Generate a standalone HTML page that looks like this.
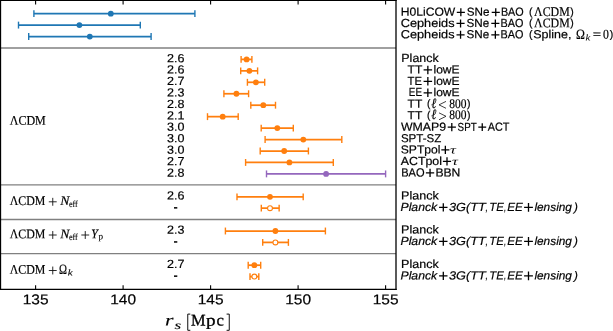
<!DOCTYPE html>
<html><head><meta charset="utf-8"><title>r_s constraints</title>
<style>
html,body{margin:0;padding:0;background:#fff;}
body{width:613px;height:331px;overflow:hidden;font-family:"Liberation Sans",sans-serif;}
svg{display:block;}
</style></head><body>
<svg width="613" height="331" viewBox="0 0 613 331">
<rect x="0" y="0" width="613" height="331" fill="#fff"/>
<line x1="33.90" y1="13.65" x2="194.90" y2="13.65" stroke="#1f77b4" stroke-width="1.75"/>
<line x1="33.90" y1="10.20" x2="33.90" y2="17.10" stroke="#1f77b4" stroke-width="1.4"/>
<line x1="194.90" y1="10.20" x2="194.90" y2="17.10" stroke="#1f77b4" stroke-width="1.4"/>
<circle cx="110.80" cy="13.65" r="2.90" fill="#1f77b4"/>
<line x1="18.50" y1="25.10" x2="140.30" y2="25.10" stroke="#1f77b4" stroke-width="1.75"/>
<line x1="18.50" y1="21.65" x2="18.50" y2="28.55" stroke="#1f77b4" stroke-width="1.4"/>
<line x1="140.30" y1="21.65" x2="140.30" y2="28.55" stroke="#1f77b4" stroke-width="1.4"/>
<circle cx="79.40" cy="25.10" r="2.90" fill="#1f77b4"/>
<line x1="28.70" y1="36.55" x2="151.10" y2="36.55" stroke="#1f77b4" stroke-width="1.75"/>
<line x1="28.70" y1="33.10" x2="28.70" y2="40.00" stroke="#1f77b4" stroke-width="1.4"/>
<line x1="151.10" y1="33.10" x2="151.10" y2="40.00" stroke="#1f77b4" stroke-width="1.4"/>
<circle cx="89.80" cy="36.55" r="2.90" fill="#1f77b4"/>
<line x1="241.10" y1="59.40" x2="251.90" y2="59.40" stroke="#ff7f0e" stroke-width="1.75"/>
<line x1="241.10" y1="55.95" x2="241.10" y2="62.85" stroke="#ff7f0e" stroke-width="1.4"/>
<line x1="251.90" y1="55.95" x2="251.90" y2="62.85" stroke="#ff7f0e" stroke-width="1.4"/>
<circle cx="246.60" cy="59.40" r="2.90" fill="#ff7f0e"/>
<line x1="240.70" y1="70.85" x2="257.60" y2="70.85" stroke="#ff7f0e" stroke-width="1.75"/>
<line x1="240.70" y1="67.40" x2="240.70" y2="74.30" stroke="#ff7f0e" stroke-width="1.4"/>
<line x1="257.60" y1="67.40" x2="257.60" y2="74.30" stroke="#ff7f0e" stroke-width="1.4"/>
<circle cx="249.40" cy="70.85" r="2.90" fill="#ff7f0e"/>
<line x1="247.40" y1="82.30" x2="264.70" y2="82.30" stroke="#ff7f0e" stroke-width="1.75"/>
<line x1="247.40" y1="78.85" x2="247.40" y2="85.75" stroke="#ff7f0e" stroke-width="1.4"/>
<line x1="264.70" y1="78.85" x2="264.70" y2="85.75" stroke="#ff7f0e" stroke-width="1.4"/>
<circle cx="255.90" cy="82.30" r="2.90" fill="#ff7f0e"/>
<line x1="223.90" y1="93.75" x2="248.60" y2="93.75" stroke="#ff7f0e" stroke-width="1.75"/>
<line x1="223.90" y1="90.30" x2="223.90" y2="97.20" stroke="#ff7f0e" stroke-width="1.4"/>
<line x1="248.60" y1="90.30" x2="248.60" y2="97.20" stroke="#ff7f0e" stroke-width="1.4"/>
<circle cx="236.40" cy="93.75" r="2.90" fill="#ff7f0e"/>
<line x1="250.80" y1="105.20" x2="275.50" y2="105.20" stroke="#ff7f0e" stroke-width="1.75"/>
<line x1="250.80" y1="101.75" x2="250.80" y2="108.65" stroke="#ff7f0e" stroke-width="1.4"/>
<line x1="275.50" y1="101.75" x2="275.50" y2="108.65" stroke="#ff7f0e" stroke-width="1.4"/>
<circle cx="263.30" cy="105.20" r="2.90" fill="#ff7f0e"/>
<line x1="207.50" y1="116.65" x2="238.20" y2="116.65" stroke="#ff7f0e" stroke-width="1.75"/>
<line x1="207.50" y1="113.20" x2="207.50" y2="120.10" stroke="#ff7f0e" stroke-width="1.4"/>
<line x1="238.20" y1="113.20" x2="238.20" y2="120.10" stroke="#ff7f0e" stroke-width="1.4"/>
<circle cx="222.70" cy="116.65" r="2.90" fill="#ff7f0e"/>
<line x1="261.20" y1="128.10" x2="293.30" y2="128.10" stroke="#ff7f0e" stroke-width="1.75"/>
<line x1="261.20" y1="124.65" x2="261.20" y2="131.55" stroke="#ff7f0e" stroke-width="1.4"/>
<line x1="293.30" y1="124.65" x2="293.30" y2="131.55" stroke="#ff7f0e" stroke-width="1.4"/>
<circle cx="277.30" cy="128.10" r="2.90" fill="#ff7f0e"/>
<line x1="265.10" y1="139.55" x2="341.80" y2="139.55" stroke="#ff7f0e" stroke-width="1.75"/>
<line x1="265.10" y1="136.10" x2="265.10" y2="143.00" stroke="#ff7f0e" stroke-width="1.4"/>
<line x1="341.80" y1="136.10" x2="341.80" y2="143.00" stroke="#ff7f0e" stroke-width="1.4"/>
<circle cx="303.30" cy="139.55" r="2.90" fill="#ff7f0e"/>
<line x1="260.20" y1="151.00" x2="308.40" y2="151.00" stroke="#ff7f0e" stroke-width="1.75"/>
<line x1="260.20" y1="147.55" x2="260.20" y2="154.45" stroke="#ff7f0e" stroke-width="1.4"/>
<line x1="308.40" y1="147.55" x2="308.40" y2="154.45" stroke="#ff7f0e" stroke-width="1.4"/>
<circle cx="284.20" cy="151.00" r="2.90" fill="#ff7f0e"/>
<line x1="245.60" y1="162.45" x2="333.30" y2="162.45" stroke="#ff7f0e" stroke-width="1.75"/>
<line x1="245.60" y1="159.00" x2="245.60" y2="165.90" stroke="#ff7f0e" stroke-width="1.4"/>
<line x1="333.30" y1="159.00" x2="333.30" y2="165.90" stroke="#ff7f0e" stroke-width="1.4"/>
<circle cx="289.40" cy="162.45" r="2.90" fill="#ff7f0e"/>
<line x1="266.50" y1="173.90" x2="385.60" y2="173.90" stroke="#9467bd" stroke-width="1.75"/>
<line x1="266.50" y1="170.45" x2="266.50" y2="177.35" stroke="#9467bd" stroke-width="1.4"/>
<line x1="385.60" y1="170.45" x2="385.60" y2="177.35" stroke="#9467bd" stroke-width="1.4"/>
<circle cx="326.10" cy="173.90" r="2.90" fill="#9467bd"/>
<line x1="237.00" y1="196.85" x2="303.20" y2="196.85" stroke="#ff7f0e" stroke-width="1.75"/>
<line x1="237.00" y1="193.40" x2="237.00" y2="200.30" stroke="#ff7f0e" stroke-width="1.4"/>
<line x1="303.20" y1="193.40" x2="303.20" y2="200.30" stroke="#ff7f0e" stroke-width="1.4"/>
<circle cx="270.00" cy="196.85" r="2.90" fill="#ff7f0e"/>
<line x1="261.30" y1="208.15" x2="279.15" y2="208.15" stroke="#ff7f0e" stroke-width="1.75"/>
<line x1="261.30" y1="204.70" x2="261.30" y2="211.60" stroke="#ff7f0e" stroke-width="1.4"/>
<line x1="279.15" y1="204.70" x2="279.15" y2="211.60" stroke="#ff7f0e" stroke-width="1.4"/>
<circle cx="270.00" cy="208.15" r="2.45" fill="#fff" stroke="#ff7f0e" stroke-width="1.1"/>
<line x1="225.40" y1="231.00" x2="325.40" y2="231.00" stroke="#ff7f0e" stroke-width="1.75"/>
<line x1="225.40" y1="227.55" x2="225.40" y2="234.45" stroke="#ff7f0e" stroke-width="1.4"/>
<line x1="325.40" y1="227.55" x2="325.40" y2="234.45" stroke="#ff7f0e" stroke-width="1.4"/>
<circle cx="275.40" cy="231.00" r="2.90" fill="#ff7f0e"/>
<line x1="262.70" y1="242.40" x2="288.40" y2="242.40" stroke="#ff7f0e" stroke-width="1.75"/>
<line x1="262.70" y1="238.95" x2="262.70" y2="245.85" stroke="#ff7f0e" stroke-width="1.4"/>
<line x1="288.40" y1="238.95" x2="288.40" y2="245.85" stroke="#ff7f0e" stroke-width="1.4"/>
<circle cx="275.40" cy="242.40" r="2.45" fill="#fff" stroke="#ff7f0e" stroke-width="1.1"/>
<line x1="248.20" y1="265.20" x2="260.70" y2="265.20" stroke="#ff7f0e" stroke-width="1.75"/>
<line x1="248.20" y1="261.75" x2="248.20" y2="268.65" stroke="#ff7f0e" stroke-width="1.4"/>
<line x1="260.70" y1="261.75" x2="260.70" y2="268.65" stroke="#ff7f0e" stroke-width="1.4"/>
<circle cx="254.35" cy="265.20" r="2.90" fill="#ff7f0e"/>
<line x1="250.00" y1="276.60" x2="258.80" y2="276.60" stroke="#ff7f0e" stroke-width="1.75"/>
<line x1="250.00" y1="273.15" x2="250.00" y2="280.05" stroke="#ff7f0e" stroke-width="1.4"/>
<line x1="258.80" y1="273.15" x2="258.80" y2="280.05" stroke="#ff7f0e" stroke-width="1.4"/>
<circle cx="254.35" cy="276.60" r="2.45" fill="#fff" stroke="#ff7f0e" stroke-width="1.1"/>
<line x1="0.575" y1="48.07" x2="396.0" y2="48.07" stroke="#808080" stroke-width="1.45"/>
<line x1="0.575" y1="184.85" x2="396.0" y2="184.85" stroke="#808080" stroke-width="1.45"/>
<line x1="0.575" y1="219.4" x2="396.0" y2="219.4" stroke="#808080" stroke-width="1.45"/>
<line x1="0.575" y1="253.6" x2="396.0" y2="253.6" stroke="#808080" stroke-width="1.45"/>
<line x1="35.60" y1="289.45" x2="35.60" y2="285.15" stroke="#000" stroke-width="1.1"/>
<line x1="35.60" y1="0.55" x2="35.60" y2="4.60" stroke="#000" stroke-width="1.1"/>
<line x1="123.10" y1="289.45" x2="123.10" y2="285.15" stroke="#000" stroke-width="1.1"/>
<line x1="123.10" y1="0.55" x2="123.10" y2="4.60" stroke="#000" stroke-width="1.1"/>
<line x1="210.60" y1="289.45" x2="210.60" y2="285.15" stroke="#000" stroke-width="1.1"/>
<line x1="210.60" y1="0.55" x2="210.60" y2="4.60" stroke="#000" stroke-width="1.1"/>
<line x1="298.10" y1="289.45" x2="298.10" y2="285.15" stroke="#000" stroke-width="1.1"/>
<line x1="298.10" y1="0.55" x2="298.10" y2="4.60" stroke="#000" stroke-width="1.1"/>
<line x1="385.60" y1="289.45" x2="385.60" y2="285.15" stroke="#000" stroke-width="1.1"/>
<line x1="385.60" y1="0.55" x2="385.60" y2="4.60" stroke="#000" stroke-width="1.1"/>
<line x1="0.575" y1="0" x2="0.575" y2="290.05" stroke="#000" stroke-width="1.15"/>
<line x1="396.0" y1="0" x2="396.0" y2="290.05" stroke="#000" stroke-width="1.3"/>
<line x1="0" y1="0.55" x2="396.65" y2="0.55" stroke="#000" stroke-width="1.1"/>
<line x1="0" y1="289.45" x2="396.65" y2="289.45" stroke="#000" stroke-width="1.2"/>
<rect x="174.0" y="207.10" width="3.3" height="1.5" fill="#000"/>
<rect x="174.0" y="241.20" width="3.3" height="1.5" fill="#000"/>
<rect x="174.0" y="275.40" width="3.3" height="1.5" fill="#000"/>
<defs><filter id="gs" x="0" y="0" width="100%" height="100%" filterUnits="userSpaceOnUse" color-interpolation-filters="sRGB"><feColorMatrix type="saturate" values="0"/></filter></defs>
<g filter="url(#gs)">
<text transform="translate(22.75,304.15) rotate(0.03) scale(1.0893,1)" font-family='"Liberation Sans", sans-serif' font-style="normal" font-size="14.20" fill="#000" stroke="#000" stroke-width="0.2">135</text>
<text transform="translate(110.25,304.15) rotate(0.03) scale(1.0893,1)" font-family='"Liberation Sans", sans-serif' font-style="normal" font-size="14.20" fill="#000" stroke="#000" stroke-width="0.2">140</text>
<text transform="translate(197.75,304.15) rotate(0.03) scale(1.0893,1)" font-family='"Liberation Sans", sans-serif' font-style="normal" font-size="14.20" fill="#000" stroke="#000" stroke-width="0.2">145</text>
<text transform="translate(285.25,304.15) rotate(0.03) scale(1.0893,1)" font-family='"Liberation Sans", sans-serif' font-style="normal" font-size="14.20" fill="#000" stroke="#000" stroke-width="0.2">150</text>
<text transform="translate(372.75,304.15) rotate(0.03) scale(1.0893,1)" font-family='"Liberation Sans", sans-serif' font-style="normal" font-size="14.20" fill="#000" stroke="#000" stroke-width="0.2">155</text>
<text transform="translate(167.00,62.15) rotate(0.03) scale(1.0564,1)" font-family='"Liberation Sans", sans-serif' font-style="normal" font-size="11.85" fill="#000" stroke="#000" stroke-width="0.2">2.6</text>
<text transform="translate(167.00,73.60) rotate(0.03) scale(1.0564,1)" font-family='"Liberation Sans", sans-serif' font-style="normal" font-size="11.85" fill="#000" stroke="#000" stroke-width="0.2">2.6</text>
<text transform="translate(167.00,85.05) rotate(0.03) scale(1.0564,1)" font-family='"Liberation Sans", sans-serif' font-style="normal" font-size="11.85" fill="#000" stroke="#000" stroke-width="0.2">2.7</text>
<text transform="translate(167.00,96.50) rotate(0.03) scale(1.0564,1)" font-family='"Liberation Sans", sans-serif' font-style="normal" font-size="11.85" fill="#000" stroke="#000" stroke-width="0.2">2.3</text>
<text transform="translate(167.00,107.95) rotate(0.03) scale(1.0564,1)" font-family='"Liberation Sans", sans-serif' font-style="normal" font-size="11.85" fill="#000" stroke="#000" stroke-width="0.2">2.8</text>
<text transform="translate(167.00,119.40) rotate(0.03) scale(1.0564,1)" font-family='"Liberation Sans", sans-serif' font-style="normal" font-size="11.85" fill="#000" stroke="#000" stroke-width="0.2">2.1</text>
<text transform="translate(167.00,130.85) rotate(0.03) scale(1.0564,1)" font-family='"Liberation Sans", sans-serif' font-style="normal" font-size="11.85" fill="#000" stroke="#000" stroke-width="0.2">3.0</text>
<text transform="translate(167.00,142.30) rotate(0.03) scale(1.0564,1)" font-family='"Liberation Sans", sans-serif' font-style="normal" font-size="11.85" fill="#000" stroke="#000" stroke-width="0.2">3.0</text>
<text transform="translate(167.00,153.75) rotate(0.03) scale(1.0564,1)" font-family='"Liberation Sans", sans-serif' font-style="normal" font-size="11.85" fill="#000" stroke="#000" stroke-width="0.2">3.0</text>
<text transform="translate(167.00,165.20) rotate(0.03) scale(1.0564,1)" font-family='"Liberation Sans", sans-serif' font-style="normal" font-size="11.85" fill="#000" stroke="#000" stroke-width="0.2">2.7</text>
<text transform="translate(167.00,176.65) rotate(0.03) scale(1.0564,1)" font-family='"Liberation Sans", sans-serif' font-style="normal" font-size="11.85" fill="#000" stroke="#000" stroke-width="0.2">2.8</text>
<text transform="translate(167.00,199.60) rotate(0.03) scale(1.0564,1)" font-family='"Liberation Sans", sans-serif' font-style="normal" font-size="11.85" fill="#000" stroke="#000" stroke-width="0.2">2.6</text>
<text transform="translate(167.00,233.75) rotate(0.03) scale(1.0564,1)" font-family='"Liberation Sans", sans-serif' font-style="normal" font-size="11.85" fill="#000" stroke="#000" stroke-width="0.2">2.3</text>
<text transform="translate(167.00,267.95) rotate(0.03) scale(1.0564,1)" font-family='"Liberation Sans", sans-serif' font-style="normal" font-size="11.85" fill="#000" stroke="#000" stroke-width="0.2">2.7</text>
<text transform="translate(400.70,15.85) rotate(0.03) scale(1.0368,1)" font-family='"Liberation Sans", sans-serif' font-style="normal" font-size="11.70" fill="#000" stroke="#000" stroke-width="0.2">H0LiCOW</text>
<path d="M456.80 12.30H464.90M460.85 8.25V16.35" stroke="#000" stroke-width="1.3" fill="none"/>
<text transform="translate(466.80,15.85) rotate(0.03) scale(0.9975,1)" font-family='"Liberation Sans", sans-serif' font-style="normal" font-size="11.70" fill="#000" stroke="#000" stroke-width="0.2">SNe</text>
<path d="M491.70 12.30H499.80M495.75 8.25V16.35" stroke="#000" stroke-width="1.3" fill="none"/>
<text transform="translate(500.90,15.85) rotate(0.03) scale(0.9227,1)" font-family='"Liberation Sans", sans-serif' font-style="normal" font-size="11.70" fill="#000" stroke="#000" stroke-width="0.2">BAO</text>
<text transform="translate(529.10,15.15) rotate(0.03) scale(0.9926,1)" font-family='"Liberation Sans", sans-serif' font-style="normal" font-size="10.59" fill="#000" stroke="#000" stroke-width="0.2">(</text>
<text transform="translate(570.30,15.15) rotate(0.03) scale(0.9926,1)" font-family='"Liberation Sans", sans-serif' font-style="normal" font-size="10.59" fill="#000" stroke="#000" stroke-width="0.2">)</text>
<text transform="translate(534.10,16.10) rotate(0.03) scale(0.8981,1)" font-family='"Liberation Serif", serif' font-style="normal" font-size="13.20" fill="#000" stroke="#000" stroke-width="0.2">ΛCDM</text>
<text transform="translate(400.70,27.00) rotate(0.03) scale(1.0904,1)" font-family='"Liberation Sans", sans-serif' font-style="normal" font-size="11.70" fill="#000" stroke="#000" stroke-width="0.2">Cepheids</text>
<path d="M456.50 23.45H464.60M460.55 19.40V27.50" stroke="#000" stroke-width="1.3" fill="none"/>
<text transform="translate(466.50,27.00) rotate(0.03) scale(0.9975,1)" font-family='"Liberation Sans", sans-serif' font-style="normal" font-size="11.70" fill="#000" stroke="#000" stroke-width="0.2">SNe</text>
<path d="M491.30 23.45H499.40M495.35 19.40V27.50" stroke="#000" stroke-width="1.3" fill="none"/>
<text transform="translate(500.60,27.00) rotate(0.03) scale(0.9267,1)" font-family='"Liberation Sans", sans-serif' font-style="normal" font-size="11.70" fill="#000" stroke="#000" stroke-width="0.2">BAO</text>
<text transform="translate(529.10,26.30) rotate(0.03) scale(0.9926,1)" font-family='"Liberation Sans", sans-serif' font-style="normal" font-size="10.59" fill="#000" stroke="#000" stroke-width="0.2">(</text>
<text transform="translate(570.30,26.30) rotate(0.03) scale(0.9926,1)" font-family='"Liberation Sans", sans-serif' font-style="normal" font-size="10.59" fill="#000" stroke="#000" stroke-width="0.2">)</text>
<text transform="translate(534.10,27.25) rotate(0.03) scale(0.8981,1)" font-family='"Liberation Serif", serif' font-style="normal" font-size="13.20" fill="#000" stroke="#000" stroke-width="0.2">ΛCDM</text>
<text transform="translate(400.70,38.35) rotate(0.03) scale(1.0904,1)" font-family='"Liberation Sans", sans-serif' font-style="normal" font-size="11.70" fill="#000" stroke="#000" stroke-width="0.2">Cepheids</text>
<path d="M456.50 34.80H464.60M460.55 30.75V38.85" stroke="#000" stroke-width="1.3" fill="none"/>
<text transform="translate(466.50,38.35) rotate(0.03) scale(0.9975,1)" font-family='"Liberation Sans", sans-serif' font-style="normal" font-size="11.70" fill="#000" stroke="#000" stroke-width="0.2">SNe</text>
<path d="M491.30 34.80H499.40M495.35 30.75V38.85" stroke="#000" stroke-width="1.3" fill="none"/>
<text transform="translate(500.60,38.35) rotate(0.03) scale(0.9267,1)" font-family='"Liberation Sans", sans-serif' font-style="normal" font-size="11.70" fill="#000" stroke="#000" stroke-width="0.2">BAO</text>
<text transform="translate(529.10,37.65) rotate(0.03) scale(0.9926,1)" font-family='"Liberation Sans", sans-serif' font-style="normal" font-size="10.59" fill="#000" stroke="#000" stroke-width="0.2">(</text>
<text transform="translate(533.20,38.35) rotate(0.03) scale(1.0677,1)" font-family='"Liberation Sans", sans-serif' font-style="normal" font-size="11.70" fill="#000" stroke="#000" stroke-width="0.2">Spline,</text>
<text transform="translate(609.70,37.65) rotate(0.03) scale(0.9926,1)" font-family='"Liberation Sans", sans-serif' font-style="normal" font-size="10.59" fill="#000" stroke="#000" stroke-width="0.2">)</text>
<text transform="translate(576.00,38.60) rotate(0.03) scale(0.8325,1)" font-family='"Liberation Serif", serif' font-style="normal" font-size="14.39" fill="#000" stroke="#000" stroke-width="0.2">Ω</text>
<text transform="translate(585.40,40.55) rotate(0.03) scale(1.1893,1)" font-family='"Liberation Serif", serif' font-style="italic" font-size="8.98" fill="#000" stroke="#000" stroke-width="0.05">k</text>
<text transform="translate(592.80,38.60) rotate(0.03) scale(1.1283,1)" font-family='"Liberation Serif", serif' font-style="normal" font-size="13.20" fill="#000" stroke="#000" stroke-width="0.2">=</text>
<text transform="translate(602.90,38.60) rotate(0.03) scale(0.8939,1)" font-family='"Liberation Serif", serif' font-style="normal" font-size="13.20" fill="#000" stroke="#000" stroke-width="0.2">0</text>
<text transform="translate(401.30,62.00) rotate(0.03) scale(1.0659,1)" font-family='"Liberation Sans", sans-serif' font-style="normal" font-size="11.70" fill="#000" stroke="#000" stroke-width="0.2">Planck</text>
<text transform="translate(407.60,73.45) rotate(0.03) scale(1.0282,1)" font-family='"Liberation Sans", sans-serif' font-style="normal" font-size="11.70" fill="#000" stroke="#000" stroke-width="0.2">TT</text>
<path d="M423.60 69.90H432.10M427.85 65.65V74.15" stroke="#000" stroke-width="1.3" fill="none"/>
<text transform="translate(433.50,73.45) rotate(0.03) scale(1.0290,1)" font-family='"Liberation Sans", sans-serif' font-style="normal" font-size="11.70" fill="#000" stroke="#000" stroke-width="0.2">lowE</text>
<text transform="translate(407.60,84.90) rotate(0.03) scale(0.9630,1)" font-family='"Liberation Sans", sans-serif' font-style="normal" font-size="11.70" fill="#000" stroke="#000" stroke-width="0.2">TE</text>
<path d="M423.60 81.35H432.10M427.85 77.10V85.60" stroke="#000" stroke-width="1.3" fill="none"/>
<text transform="translate(433.50,84.90) rotate(0.03) scale(1.0290,1)" font-family='"Liberation Sans", sans-serif' font-style="normal" font-size="11.70" fill="#000" stroke="#000" stroke-width="0.2">lowE</text>
<text transform="translate(408.80,96.35) rotate(0.03) scale(0.8457,1)" font-family='"Liberation Sans", sans-serif' font-style="normal" font-size="11.70" fill="#000" stroke="#000" stroke-width="0.2">EE</text>
<path d="M423.60 92.80H432.10M427.85 88.55V97.05" stroke="#000" stroke-width="1.3" fill="none"/>
<text transform="translate(433.50,96.35) rotate(0.03) scale(1.0290,1)" font-family='"Liberation Sans", sans-serif' font-style="normal" font-size="11.70" fill="#000" stroke="#000" stroke-width="0.2">lowE</text>
<text transform="translate(407.60,107.80) rotate(0.03) scale(1.0282,1)" font-family='"Liberation Sans", sans-serif' font-style="normal" font-size="11.70" fill="#000" stroke="#000" stroke-width="0.2">TT</text>
<text transform="translate(426.90,107.10) rotate(0.03) scale(0.9643,1)" font-family='"Liberation Sans", sans-serif' font-style="normal" font-size="10.59" fill="#000" stroke="#000" stroke-width="0.2">(</text>
<text transform="translate(466.90,107.10) rotate(0.03) scale(0.9926,1)" font-family='"Liberation Sans", sans-serif' font-style="normal" font-size="10.59" fill="#000" stroke="#000" stroke-width="0.2">)</text>
<text transform="translate(431.30,108.00) rotate(0.03) scale(0.8444,1)" font-family='"Liberation Serif", serif' font-style="italic" font-size="14.20" fill="#000" stroke="#000" stroke-width="0.2">ℓ</text>
<path d="M446.00 101.40L439.00 104.85L446.00 108.30" stroke="#111" stroke-width="0.8" fill="none" stroke-linejoin="miter"/>
<text transform="translate(449.30,108.00) rotate(0.03) scale(0.8687,1)" font-family='"Liberation Serif", serif' font-style="normal" font-size="13.20" fill="#000" stroke="#000" stroke-width="0.2">800</text>
<text transform="translate(407.60,119.25) rotate(0.03) scale(1.0282,1)" font-family='"Liberation Sans", sans-serif' font-style="normal" font-size="11.70" fill="#000" stroke="#000" stroke-width="0.2">TT</text>
<text transform="translate(426.90,118.55) rotate(0.03) scale(0.9643,1)" font-family='"Liberation Sans", sans-serif' font-style="normal" font-size="10.59" fill="#000" stroke="#000" stroke-width="0.2">(</text>
<text transform="translate(466.90,118.55) rotate(0.03) scale(0.9926,1)" font-family='"Liberation Sans", sans-serif' font-style="normal" font-size="10.59" fill="#000" stroke="#000" stroke-width="0.2">)</text>
<text transform="translate(431.30,119.45) rotate(0.03) scale(0.8444,1)" font-family='"Liberation Serif", serif' font-style="italic" font-size="14.20" fill="#000" stroke="#000" stroke-width="0.2">ℓ</text>
<path d="M439.00 112.85L446.00 116.30L439.00 119.75" stroke="#111" stroke-width="0.8" fill="none" stroke-linejoin="miter"/>
<text transform="translate(449.30,119.45) rotate(0.03) scale(0.8687,1)" font-family='"Liberation Serif", serif' font-style="normal" font-size="13.20" fill="#000" stroke="#000" stroke-width="0.2">800</text>
<text transform="translate(400.90,130.70) rotate(0.03) scale(1.0558,1)" font-family='"Liberation Sans", sans-serif' font-style="normal" font-size="11.70" fill="#000" stroke="#000" stroke-width="0.2">WMAP9</text>
<path d="M447.70 127.15H455.90M451.80 123.05V131.25" stroke="#000" stroke-width="1.3" fill="none"/>
<text transform="translate(457.60,130.70) rotate(0.03) scale(0.8393,1)" font-family='"Liberation Sans", sans-serif' font-style="normal" font-size="11.70" fill="#000" stroke="#000" stroke-width="0.2">SPT</text>
<path d="M478.30 127.15H486.20M482.25 123.20V131.10" stroke="#000" stroke-width="1.3" fill="none"/>
<text transform="translate(487.80,130.70) rotate(0.03) scale(0.9274,1)" font-family='"Liberation Sans", sans-serif' font-style="normal" font-size="11.70" fill="#000" stroke="#000" stroke-width="0.2">ACT</text>
<text transform="translate(400.90,142.15) rotate(0.03) scale(0.9887,1)" font-family='"Liberation Sans", sans-serif' font-style="normal" font-size="11.70" fill="#000" stroke="#000" stroke-width="0.2">SPT-SZ</text>
<text transform="translate(400.80,153.45) rotate(0.03) scale(1.0348,1)" font-family='"Liberation Sans", sans-serif' font-style="normal" font-size="11.70" fill="#000" stroke="#000" stroke-width="0.2">SPTpol</text>
<path d="M441.30 149.90H449.40M445.35 145.85V153.95" stroke="#000" stroke-width="1.3" fill="none"/>
<text transform="translate(450.00,153.45) rotate(0.03) scale(1.4432,1)" font-family='"Liberation Serif", serif' font-style="italic" font-size="11.40" fill="#000" stroke="#000" stroke-width="0">τ</text>
<text transform="translate(400.70,164.90) rotate(0.03) scale(1.0584,1)" font-family='"Liberation Sans", sans-serif' font-style="normal" font-size="11.70" fill="#000" stroke="#000" stroke-width="0.2">ACTpol</text>
<path d="M442.90 161.35H451.10M447.00 157.25V165.45" stroke="#000" stroke-width="1.3" fill="none"/>
<text transform="translate(452.00,164.90) rotate(0.03) scale(1.4432,1)" font-family='"Liberation Serif", serif' font-style="italic" font-size="11.40" fill="#000" stroke="#000" stroke-width="0">τ</text>
<text transform="translate(401.20,176.50) rotate(0.03) scale(0.9470,1)" font-family='"Liberation Sans", sans-serif' font-style="normal" font-size="11.70" fill="#000" stroke="#000" stroke-width="0.2">BAO</text>
<path d="M425.90 172.95H434.20M430.05 168.80V177.10" stroke="#000" stroke-width="1.3" fill="none"/>
<text transform="translate(435.40,176.50) rotate(0.03) scale(1.0393,1)" font-family='"Liberation Sans", sans-serif' font-style="normal" font-size="11.70" fill="#000" stroke="#000" stroke-width="0.2">BBN</text>
<text transform="translate(401.10,199.45) rotate(0.03) scale(1.0730,1)" font-family='"Liberation Sans", sans-serif' font-style="normal" font-size="11.70" fill="#000" stroke="#000" stroke-width="0.2">Planck</text>
<text transform="translate(400.50,210.90) rotate(0.03) scale(1.0449,1)" font-family='"Liberation Sans", sans-serif' font-style="italic" font-size="11.70" fill="#000" stroke="#000" stroke-width="0.2">Planck</text>
<path d="M439.10 207.35H447.50M443.30 203.15V211.55" stroke="#000" stroke-width="1.3" fill="none"/>
<text transform="translate(449.00,210.90) rotate(0.03) scale(1.0872,1)" font-family='"Liberation Sans", sans-serif' font-style="italic" font-size="11.70" fill="#000" stroke="#000" stroke-width="0.2">3G(TT</text>
<text transform="translate(485.40,210.90) rotate(0.03) scale(0.7379,1)" font-family='"Liberation Sans", sans-serif' font-style="italic" font-size="11.70" fill="#000" stroke="#000" stroke-width="0.2">,</text>
<text transform="translate(489.20,210.90) rotate(0.03) scale(0.9755,1)" font-family='"Liberation Sans", sans-serif' font-style="italic" font-size="11.70" fill="#000" stroke="#000" stroke-width="0.2">TE</text>
<text transform="translate(504.00,210.90) rotate(0.03) scale(0.6764,1)" font-family='"Liberation Sans", sans-serif' font-style="italic" font-size="11.70" fill="#000" stroke="#000" stroke-width="0.2">,</text>
<text transform="translate(507.20,210.90) rotate(0.03) scale(0.9984,1)" font-family='"Liberation Sans", sans-serif' font-style="italic" font-size="11.70" fill="#000" stroke="#000" stroke-width="0.2">EE</text>
<path d="M524.10 207.35H532.90M528.50 202.95V211.75" stroke="#000" stroke-width="1.3" fill="none"/>
<text transform="translate(534.40,210.90) rotate(0.03) scale(1.0141,1)" font-family='"Liberation Sans", sans-serif' font-style="italic" font-size="11.70" fill="#000" stroke="#000" stroke-width="0.2">lensing</text>
<text transform="translate(574.04,210.90) rotate(0.03) scale(0.9915,1)" font-family='"Liberation Sans", sans-serif' font-style="italic" font-size="11.70" fill="#000" stroke="#000" stroke-width="0.2">)</text>
<text transform="translate(401.10,233.60) rotate(0.03) scale(1.0730,1)" font-family='"Liberation Sans", sans-serif' font-style="normal" font-size="11.70" fill="#000" stroke="#000" stroke-width="0.2">Planck</text>
<text transform="translate(400.50,245.00) rotate(0.03) scale(1.0449,1)" font-family='"Liberation Sans", sans-serif' font-style="italic" font-size="11.70" fill="#000" stroke="#000" stroke-width="0.2">Planck</text>
<path d="M439.10 241.45H447.50M443.30 237.25V245.65" stroke="#000" stroke-width="1.3" fill="none"/>
<text transform="translate(449.00,245.00) rotate(0.03) scale(1.0872,1)" font-family='"Liberation Sans", sans-serif' font-style="italic" font-size="11.70" fill="#000" stroke="#000" stroke-width="0.2">3G(TT</text>
<text transform="translate(485.40,245.00) rotate(0.03) scale(0.7379,1)" font-family='"Liberation Sans", sans-serif' font-style="italic" font-size="11.70" fill="#000" stroke="#000" stroke-width="0.2">,</text>
<text transform="translate(489.20,245.00) rotate(0.03) scale(0.9755,1)" font-family='"Liberation Sans", sans-serif' font-style="italic" font-size="11.70" fill="#000" stroke="#000" stroke-width="0.2">TE</text>
<text transform="translate(504.00,245.00) rotate(0.03) scale(0.6764,1)" font-family='"Liberation Sans", sans-serif' font-style="italic" font-size="11.70" fill="#000" stroke="#000" stroke-width="0.2">,</text>
<text transform="translate(507.20,245.00) rotate(0.03) scale(0.9984,1)" font-family='"Liberation Sans", sans-serif' font-style="italic" font-size="11.70" fill="#000" stroke="#000" stroke-width="0.2">EE</text>
<path d="M524.10 241.45H532.90M528.50 237.05V245.85" stroke="#000" stroke-width="1.3" fill="none"/>
<text transform="translate(534.40,245.00) rotate(0.03) scale(1.0141,1)" font-family='"Liberation Sans", sans-serif' font-style="italic" font-size="11.70" fill="#000" stroke="#000" stroke-width="0.2">lensing</text>
<text transform="translate(574.04,245.00) rotate(0.03) scale(0.9915,1)" font-family='"Liberation Sans", sans-serif' font-style="italic" font-size="11.70" fill="#000" stroke="#000" stroke-width="0.2">)</text>
<text transform="translate(401.10,268.05) rotate(0.03) scale(1.0730,1)" font-family='"Liberation Sans", sans-serif' font-style="normal" font-size="11.70" fill="#000" stroke="#000" stroke-width="0.2">Planck</text>
<text transform="translate(400.50,279.45) rotate(0.03) scale(1.0449,1)" font-family='"Liberation Sans", sans-serif' font-style="italic" font-size="11.70" fill="#000" stroke="#000" stroke-width="0.2">Planck</text>
<path d="M439.10 275.90H447.50M443.30 271.70V280.10" stroke="#000" stroke-width="1.3" fill="none"/>
<text transform="translate(449.00,279.45) rotate(0.03) scale(1.0872,1)" font-family='"Liberation Sans", sans-serif' font-style="italic" font-size="11.70" fill="#000" stroke="#000" stroke-width="0.2">3G(TT</text>
<text transform="translate(485.40,279.45) rotate(0.03) scale(0.7379,1)" font-family='"Liberation Sans", sans-serif' font-style="italic" font-size="11.70" fill="#000" stroke="#000" stroke-width="0.2">,</text>
<text transform="translate(489.20,279.45) rotate(0.03) scale(0.9755,1)" font-family='"Liberation Sans", sans-serif' font-style="italic" font-size="11.70" fill="#000" stroke="#000" stroke-width="0.2">TE</text>
<text transform="translate(504.00,279.45) rotate(0.03) scale(0.6764,1)" font-family='"Liberation Sans", sans-serif' font-style="italic" font-size="11.70" fill="#000" stroke="#000" stroke-width="0.2">,</text>
<text transform="translate(507.20,279.45) rotate(0.03) scale(0.9984,1)" font-family='"Liberation Sans", sans-serif' font-style="italic" font-size="11.70" fill="#000" stroke="#000" stroke-width="0.2">EE</text>
<path d="M524.10 275.90H532.90M528.50 271.50V280.30" stroke="#000" stroke-width="1.3" fill="none"/>
<text transform="translate(534.40,279.45) rotate(0.03) scale(1.0141,1)" font-family='"Liberation Sans", sans-serif' font-style="italic" font-size="11.70" fill="#000" stroke="#000" stroke-width="0.2">lensing</text>
<text transform="translate(574.04,279.45) rotate(0.03) scale(0.9915,1)" font-family='"Liberation Sans", sans-serif' font-style="italic" font-size="11.70" fill="#000" stroke="#000" stroke-width="0.2">)</text>
<text transform="translate(9.70,124.80) rotate(0.03) scale(0.9107,1)" font-family='"Liberation Serif", serif' font-style="normal" font-size="13.20" fill="#000" stroke="#000" stroke-width="0.2">ΛCDM</text>
<text transform="translate(9.70,205.10) rotate(0.03) scale(0.9006,1)" font-family='"Liberation Serif", serif' font-style="normal" font-size="13.20" fill="#000" stroke="#000" stroke-width="0.2">ΛCDM</text>
<path d="M48.80 201.80H56.70M52.75 197.85V205.75" stroke="#111" stroke-width="0.9" fill="none"/>
<text transform="translate(60.21,205.10) rotate(0.03) scale(1.0388,1)" font-family='"Liberation Serif", serif' font-style="italic" font-size="13.20" fill="#000" stroke="#000" stroke-width="0.2">N</text>
<text transform="translate(69.00,206.80) rotate(0.03) scale(0.8713,1)" font-family='"Liberation Serif", serif' font-style="normal" font-size="9.24" fill="#000" stroke="#000" stroke-width="0.12">eff</text>
<text transform="translate(9.70,238.30) rotate(0.03) scale(0.9006,1)" font-family='"Liberation Serif", serif' font-style="normal" font-size="13.20" fill="#000" stroke="#000" stroke-width="0.2">ΛCDM</text>
<path d="M48.80 235.00H56.70M52.75 231.05V238.95" stroke="#111" stroke-width="0.9" fill="none"/>
<text transform="translate(60.21,238.30) rotate(0.03) scale(1.0388,1)" font-family='"Liberation Serif", serif' font-style="italic" font-size="13.20" fill="#000" stroke="#000" stroke-width="0.2">N</text>
<text transform="translate(69.00,240.00) rotate(0.03) scale(0.8713,1)" font-family='"Liberation Serif", serif' font-style="normal" font-size="9.24" fill="#000" stroke="#000" stroke-width="0.12">eff</text>
<path d="M81.30 235.00H89.20M85.25 231.05V238.95" stroke="#111" stroke-width="0.9" fill="none"/>
<text transform="translate(91.30,238.30) rotate(0.03) scale(0.8913,1)" font-family='"Liberation Serif", serif' font-style="italic" font-size="13.20" fill="#000" stroke="#000" stroke-width="0.2">Y</text>
<text transform="translate(98.60,239.30) rotate(0.03) scale(0.9957,1)" font-family='"Liberation Serif", serif' font-style="normal" font-size="9.24" fill="#000" stroke="#000" stroke-width="0.12">p</text>
<text transform="translate(9.70,273.80) rotate(0.03) scale(0.9006,1)" font-family='"Liberation Serif", serif' font-style="normal" font-size="13.20" fill="#000" stroke="#000" stroke-width="0.2">ΛCDM</text>
<path d="M48.80 270.50H56.70M52.75 266.55V274.45" stroke="#111" stroke-width="0.9" fill="none"/>
<text transform="translate(59.00,273.80) rotate(0.03) scale(0.7483,1)" font-family='"Liberation Serif", serif' font-style="normal" font-size="14.39" fill="#000" stroke="#000" stroke-width="0.2">Ω</text>
<text transform="translate(67.80,275.50) rotate(0.03) scale(1.2136,1)" font-family='"Liberation Serif", serif' font-style="italic" font-size="8.98" fill="#000" stroke="#000" stroke-width="0.12">k</text>
<text transform="translate(165.00,325.50) rotate(0.03) scale(1.3425,1)" font-family='"Liberation Serif", serif' font-style="italic" font-size="16.30" fill="#000" stroke="#000" stroke-width="0.1">r</text>
<text transform="translate(174.40,328.90) rotate(0.03) scale(1.4457,1)" font-family='"Liberation Serif", serif' font-style="italic" font-size="11.74" fill="#000" stroke="#000" stroke-width="0.1">s</text>
<text transform="translate(191.10,325.50) rotate(0.03) scale(1.0075,1)" font-family='"Liberation Serif", serif' font-style="normal" font-size="16.30" fill="#000" stroke="#000" stroke-width="0.3">M</text>
<text transform="translate(206.10,325.50) rotate(0.03) scale(1.1779,1)" font-family='"Liberation Serif", serif' font-style="normal" font-size="16.30" fill="#000" stroke="#000" stroke-width="0.3">p</text>
<text transform="translate(216.60,325.50) rotate(0.03) scale(1.0225,1)" font-family='"Liberation Serif", serif' font-style="normal" font-size="16.30" fill="#000" stroke="#000" stroke-width="0.3">c</text>
<path d="M190.3 314.1H187.75V330.3H190.3" stroke="#000" stroke-width="0.95" fill="none"/>
<path d="M226.6 314.1H229.25V330.3H226.6" stroke="#000" stroke-width="0.95" fill="none"/>
</g>
</svg>
</body></html>
